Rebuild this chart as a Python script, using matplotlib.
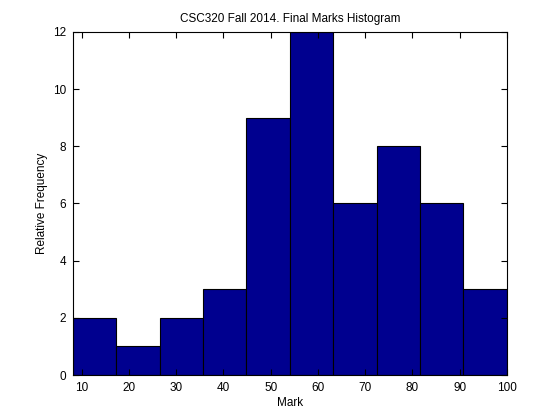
import matplotlib
matplotlib.use("Agg")
import matplotlib.pyplot as plt
import numpy as np

plt.rcParams['font.family'] = ['Liberation Sans', 'DejaVu Sans']

bin_edges = [8.1, 17.29, 26.48, 35.67, 44.86, 54.05, 63.24, 72.43, 81.62, 90.81, 100.0]
counts = [2, 1, 2, 3, 9, 12, 6, 8, 6, 3]
x_ticks = [10, 20, 30, 40, 50, 60, 70, 80, 90, 100]
y_ticks = [0, 2, 4, 6, 8, 10, 12]

fig = plt.figure(figsize=(5.6, 4.2), dpi=100)
ax = fig.add_axes([0.13, 0.107, 0.775, 0.817])

edges = np.array(bin_edges)
ax.bar(edges[:-1], counts, width=np.diff(edges), align='edge',
       color='#00008F', edgecolor='black', linewidth=0.8)

ax.set_xlim(bin_edges[0], bin_edges[-1])
ax.set_ylim(0, 12)
ax.set_xticks(x_ticks)
ax.set_yticks(y_ticks)
ax.tick_params(direction='in', top=True, right=True, length=4, width=0.8,
               labelsize=8.5, pad=5)
for s in ax.spines.values():
    s.set_linewidth(0.8)

ax.set_title('CSC320 Fall 2014. Final Marks Histogram', fontsize=8.5, pad=7)
ax.set_xlabel('Mark', fontsize=8.5, labelpad=2)
ax.set_ylabel('Relative Frequency', fontsize=8.5, labelpad=3)

fig.savefig('out.png', dpi=100)
